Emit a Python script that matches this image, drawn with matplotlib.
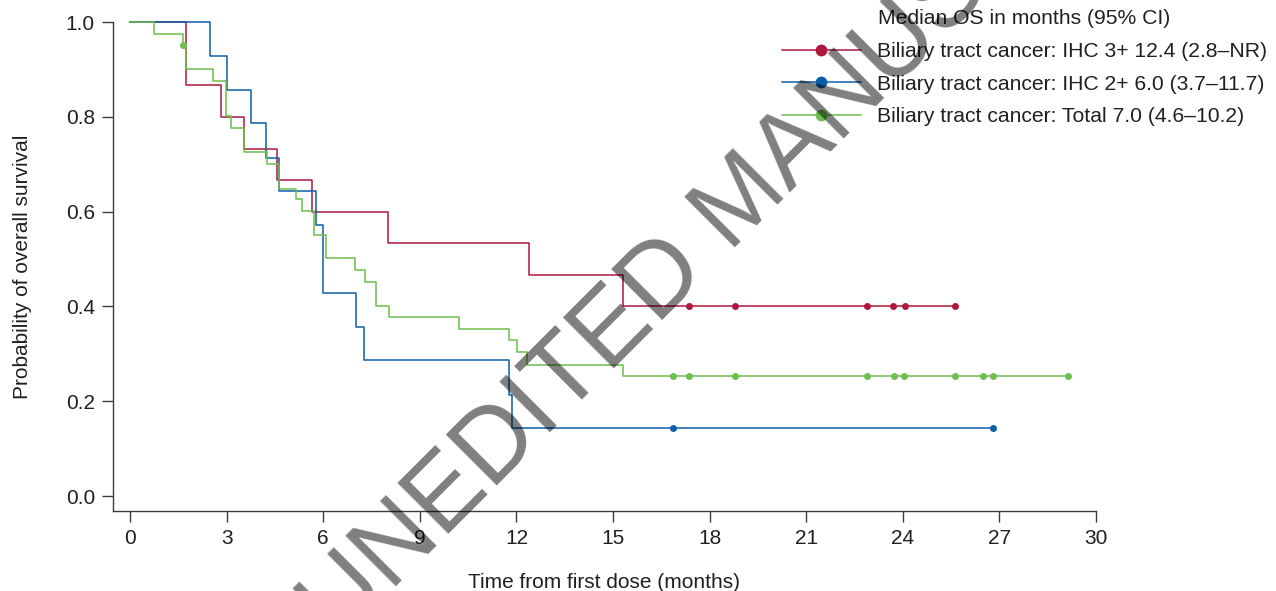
import matplotlib
matplotlib.use("Agg")
import matplotlib.pyplot as plt
from matplotlib.lines import Line2D

plt.rcParams["font.family"] = ["Liberation Sans", "DejaVu Sans"]

# Kaplan-Meier steps (months, survival probability)
ihc3_times = [0, 1.74, 2.83, 3.54, 4.57, 5.64, 8.0, 12.39, 15.32]
ihc3_surv = [1.0, 0.867, 0.800, 0.733, 0.667, 0.600, 0.533, 0.467, 0.400]
ihc3_censor = [17.35, 18.79, 22.9, 23.71, 24.06, 25.63]

ihc2_times = [0, 2.48, 3.0, 3.77, 4.23, 4.63, 5.78, 6.0, 7.01, 7.27, 11.77, 11.85]
ihc2_surv = [1.0, 0.929, 0.857, 0.786, 0.714, 0.643, 0.571, 0.429, 0.357,
             0.286, 0.214, 0.143]
ihc2_censor = [16.85, 26.81]

total_times = [0, 0.75, 1.64, 1.74, 2.58, 2.98, 3.12, 3.54, 4.24, 4.63, 5.15,
               5.34, 5.72, 6.07, 6.98, 7.3, 7.63, 8.05, 10.21, 11.76, 12.03,
               12.34, 15.32]
total_surv = [1.0, 0.975, 0.951, 0.900, 0.876, 0.801, 0.776, 0.725, 0.700,
              0.648, 0.627, 0.602, 0.550, 0.503, 0.477, 0.451, 0.401, 0.377,
              0.353, 0.329, 0.304, 0.277, 0.254]
total_censor = [1.64, 16.87, 17.35, 18.79, 22.9, 23.74, 24.03, 25.63, 26.5,
                26.81, 29.14]

labels = ["Biliary tract cancer: IHC 3+ 12.4 (2.8\u2013NR)",
          "Biliary tract cancer: IHC 2+ 6.0 (3.7\u201311.7)",
          "Biliary tract cancer: Total 7.0 (4.6\u201310.2)"]
colors = ["#b0183f", "#0b5ea8", "#6cbf4c"]
xticks = list(range(0, 31, 3))
yticks = [0.0, 0.2, 0.4, 0.6, 0.8, 1.0]

TXT = "#231f20"
FS = 15
LEG_FS = 15.2


def surv_at(times, surv, t):
    s = surv[0]
    for ti, si in zip(times, surv):
        if ti <= t:
            s = si
    return s


fig = plt.figure(figsize=(12.76, 5.91), dpi=100)
ax = fig.add_axes([113 / 1276, 1 - 511 / 591, (1096 - 113) / 1276, (511 - 22) / 591])

series = [(ihc3_times, ihc3_surv, ihc3_censor),
          (ihc2_times, ihc2_surv, ihc2_censor),
          (total_times, total_surv, total_censor)]
for (t, s, c), col in zip(series, colors):
    end = c[-1]
    ax.step(t + [end], s + [s[-1]], where="post", color=col, lw=1.1,
            clip_on=False, zorder=2)
    ax.plot(c, [surv_at(t, s, x) for x in c], "o", color=col, ms=5,
            mec="none", clip_on=False, zorder=3)

ax.set_xlim(-0.53, 30)
ax.set_ylim(-0.0316, 1.0)
ax.set_xticks(xticks)
ax.set_yticks(yticks)
ax.set_yticklabels([f"{v:.1f}" for v in yticks])
for side in ("top", "right"):
    ax.spines[side].set_visible(False)
for side in ("left", "bottom"):
    ax.spines[side].set_color("#3c3c3c")
    ax.spines[side].set_linewidth(1.0)
ax.tick_params(direction="out", length=8, width=1.0, color="#3c3c3c",
               labelsize=FS, labelcolor=TXT, pad=5)
ax.set_xlabel("Time from first dose (months)", fontsize=FS, color=TXT, labelpad=18)
ax.set_ylabel("Probability of overall survival", fontsize=FS, color=TXT, labelpad=24)

handles = [Line2D([], [], color=col, lw=1.1, marker="o", ms=8.5, mec="none")
           for col in colors]
ax.legend(handles, labels, loc="upper left", bbox_to_anchor=(782 / 1276, 1 - 42 / 591),
          bbox_transform=fig.transFigure, frameon=False, fontsize=LEG_FS,
          handlelength=3.72, handletextpad=0.77, labelspacing=0.64, borderpad=0,
          borderaxespad=0, labelcolor=TXT)
fig.text(878 / 1276, 1 - 18 / 591, "Median OS in months (95% CI)", fontsize=LEG_FS,
         color=TXT, ha="left", va="center")

# diagonal watermark
fig.text(755 / 1276, 1 - 190 / 591, "UNEDITED MANUSCRIPT", fontsize=74,
         color="black", alpha=0.5, rotation=45,
         ha="center", va="center", zorder=10)

fig.savefig("out.png", dpi=100)
